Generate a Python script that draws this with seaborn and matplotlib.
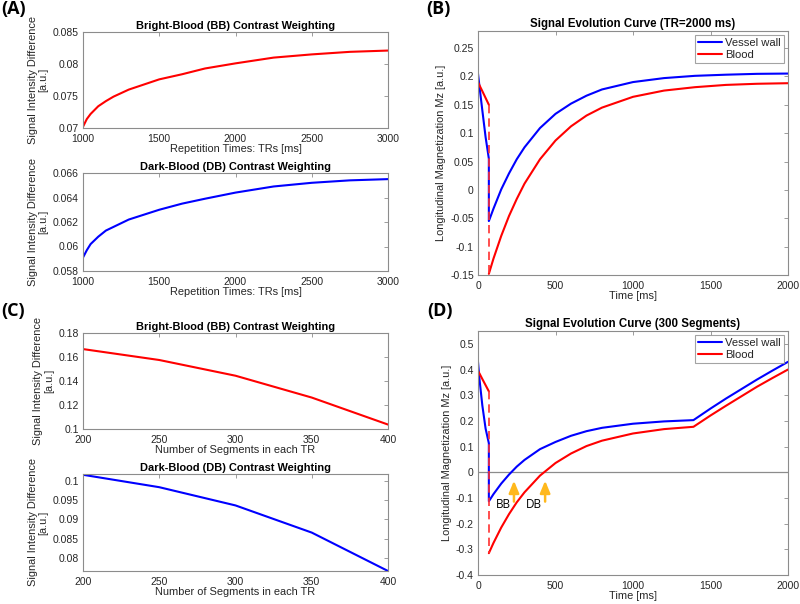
import numpy as np
import pandas as pd
import matplotlib
matplotlib.use("Agg")
import matplotlib.pyplot as plt
from matplotlib.ticker import FuncFormatter, MultipleLocator
import seaborn as sns

# ---- data ----
# (A) contrast vs repetition time
tr_ms = [1000, 1025, 1050, 1100, 1150, 1200, 1300, 1400, 1500, 1650, 1800, 2000, 2250, 2500, 2750, 3000]
bb_vs_tr = [0.0702, 0.0714, 0.0722, 0.0734, 0.0742, 0.0749, 0.0760, 0.0768, 0.0776, 0.0784, 0.0793,
            0.0801, 0.0810, 0.0815, 0.0819, 0.0821]
db_vs_tr = [0.0591, 0.0597, 0.0602, 0.0608, 0.0613, 0.0616, 0.0622, 0.0626, 0.0630, 0.0635, 0.0639,
            0.0644, 0.0649, 0.0652, 0.0654, 0.0655]

# (C) contrast vs number of segments
segments = [200, 250, 300, 350, 400]
bb_vs_seg = [0.1666, 0.1575, 0.1444, 0.1262, 0.1037]
db_vs_seg = [0.1015, 0.0983, 0.0936, 0.0866, 0.0767]

# (B) signal evolution, TR = 2000 ms
b_t_pre = [0, 10, 28, 49, 70]
b_wall_pre = [0.205, 0.181, 0.140, 0.093, 0.055]
b_blood_pre = [0.190, 0.184, 0.174, 0.162, 0.150]
b_t_post = [70, 100, 150, 200, 250, 300, 400, 500, 600, 700, 800, 1000, 1200, 1400, 1600, 1800, 2000]
b_wall_post = [-0.055, -0.033, 0.001, 0.029, 0.054, 0.075, 0.109, 0.134, 0.152, 0.166, 0.177, 0.190,
               0.197, 0.201, 0.203, 0.2045, 0.205]
b_blood_post = [-0.148, -0.121, -0.081, -0.046, -0.016, 0.011, 0.054, 0.087, 0.112, 0.131, 0.145, 0.164,
                0.175, 0.181, 0.185, 0.187, 0.188]

# (D) signal evolution, 300 segments
d_t_pre = [0, 10, 28, 49, 70]
d_wall_pre = [0.430, 0.360, 0.260, 0.170, 0.113]
d_blood_pre = [0.395, 0.384, 0.363, 0.339, 0.315]
d_t_post = [70, 100, 150, 200, 250, 300, 400, 500, 600, 700, 800, 1000, 1200, 1390, 1500, 1600, 1700,
            1800, 1900, 2000]
d_wall_post = [-0.113, -0.085, -0.044, -0.009, 0.022, 0.048, 0.090, 0.118, 0.142, 0.160, 0.173, 0.189,
               0.198, 0.203, 0.248, 0.287, 0.324, 0.361, 0.396, 0.430]
d_blood_post = [-0.315, -0.275, -0.215, -0.163, -0.117, -0.078, -0.013, 0.036, 0.073, 0.102, 0.123, 0.151,
                0.168, 0.177, 0.221, 0.259, 0.296, 0.333, 0.367, 0.400]
crossing_times = [232, 433]
crossing_labels = ["BB", "DB"]

# ---- style ----
sns.set_theme(style="white")
plt.rcParams["font.family"] = ["Liberation Sans", "DejaVu Sans"]
plt.rcParams["axes.unicode_minus"] = False

BLUE = "#0000FF"
RED = "#FF0000"
GREY = "#8c8c8c"
TXT = "#262626"
FS = 7.5

fig = plt.figure(figsize=(8.0, 6.04), dpi=100)


def box(ax):
    for s in ax.spines.values():
        s.set_color(GREY)
        s.set_linewidth(0.8)
    ax.tick_params(direction="in", length=3, width=0.6, color=GREY, top=True, right=True,
                   labelsize=FS, labelcolor=TXT)
    ax.tick_params(axis="x", pad=4)
    ax.tick_params(axis="y", pad=3)
    ax.yaxis.set_major_formatter(FuncFormatter(lambda v, p: "%g" % round(v, 6)))
    ax.xaxis.set_major_formatter(FuncFormatter(lambda v, p: "%g" % v))


def small_panel(rect, x, y, color, title, xlabel, xlim, xstep, ylim, ystep):
    ax = fig.add_axes(rect)
    sns.lineplot(x=x, y=y, color=color, lw=1.5, ax=ax)
    ax.set_xlim(*xlim)
    ax.set_ylim(*ylim)
    ax.xaxis.set_major_locator(MultipleLocator(xstep))
    ax.yaxis.set_major_locator(MultipleLocator(ystep))
    ax.set_title(title, fontsize=FS + 0.4, fontweight="bold", color="black", pad=2)
    ax.set_xlabel(xlabel, fontsize=FS + 0.4, color=TXT, labelpad=0)
    ax.set_ylabel("Signal Intensity Difference\n[a.u.]", fontsize=FS + 0.4, color=TXT,
                  linespacing=1.1, labelpad=3)
    box(ax)
    return ax


def evolution_panel(rect, t_pre, wall_pre, blood_pre, t_post, wall_post, blood_post, title, ylim):
    ax = fig.add_axes(rect)
    wall = pd.DataFrame({"t": t_pre + t_post, "mz": wall_pre + wall_post})
    sns.lineplot(data=wall, x="t", y="mz", sort=False, estimator=None, color=BLUE, lw=1.5,
                 ax=ax, label="Vessel wall")
    sns.lineplot(x=t_pre, y=blood_pre, color=RED, lw=1.5, ax=ax, label="Blood")
    sns.lineplot(x=t_post, y=blood_post, color=RED, lw=1.5, ax=ax, label="_nolegend_")
    drop = pd.DataFrame({"t": [t_pre[-1], t_post[0]], "mz": [blood_pre[-1], blood_post[0]]})
    sns.lineplot(data=drop, x="t", y="mz", sort=False, estimator=None, color="#FF3030", lw=1.2,
                 linestyle=(0, (5, 3)), ax=ax, label="_nolegend_")
    ax.set_xlim(0, 2000)
    ax.set_ylim(*ylim)
    ax.xaxis.set_major_locator(MultipleLocator(500))
    ax.set_title(title, fontsize=FS + 0.8, fontweight="bold", color="black", pad=3)
    ax.set_xlabel("Time [ms]", fontsize=FS + 0.4, color=TXT, labelpad=0)
    ax.set_ylabel("Longitudinal Magnetization Mz [a.u.]", fontsize=FS + 0.4, color=TXT, labelpad=3)
    leg = ax.legend(loc="upper right", fontsize=FS + 0.6, frameon=True, fancybox=False,
                    borderpad=0.3, handlelength=2.1, handletextpad=0.3, labelspacing=0.15,
                    borderaxespad=0.35)
    leg.get_frame().set_edgecolor(GREY)
    leg.get_frame().set_linewidth(0.8)
    for txt in leg.get_texts():
        txt.set_color(TXT)
    box(ax)
    return ax


W = 800.0
H = 604.0


def rect(l, t, r, b):
    return [l / W, 1 - b / H, (r - l) / W, (b - t) / H]


small_panel(rect(83, 32, 388, 128), tr_ms, bb_vs_tr, RED, "Bright-Blood (BB) Contrast Weighting",
            "Repetition Times: TRs [ms]", (1000, 3000), 500, (0.07, 0.085), 0.005)
small_panel(rect(83, 173, 388, 271), tr_ms, db_vs_tr, BLUE, "Dark-Blood (DB) Contrast Weighting",
            "Repetition Times: TRs [ms]", (1000, 3000), 500, (0.058, 0.066), 0.002)
small_panel(rect(83, 333, 388, 429), segments, bb_vs_seg, RED, "Bright-Blood (BB) Contrast Weighting",
            "Number of Segments in each TR", (200, 400), 50, (0.1, 0.18), 0.02)
small_panel(rect(83, 474, 388, 571), segments, db_vs_seg, BLUE, "Dark-Blood (DB) Contrast Weighting",
            "Number of Segments in each TR", (200, 400), 50, (0.0767, 0.1017), 0.005)

axB = evolution_panel(rect(478, 31, 788, 275), b_t_pre, b_wall_pre, b_blood_pre, b_t_post, b_wall_post,
                      b_blood_post, "Signal Evolution Curve (TR=2000 ms)", (-0.15, 0.28))
axB.yaxis.set_major_locator(MultipleLocator(0.05))

axD = evolution_panel(rect(478, 331, 788, 575), d_t_pre, d_wall_pre, d_blood_pre, d_t_post, d_wall_post,
                      d_blood_post, "Signal Evolution Curve (300 Segments)", (-0.4, 0.55))
axD.yaxis.set_major_locator(MultipleLocator(0.1))
axD.axhline(0, color=GREY, lw=0.9, zorder=0)
for t0, lab in zip(crossing_times, crossing_labels):
    axD.annotate("", xy=(t0, -0.022), xytext=(t0, -0.125),
                 arrowprops=dict(arrowstyle="-|>,head_length=0.6,head_width=0.25", color="#FFB81C", lw=1.8))
    axD.text(t0 - 22, -0.125, lab, ha="right", va="center", fontsize=FS + 1.0, color="black",
             family="Open Sans")

# panel letters
for x, y, s in [(1, 0, "(A)"), (426, 0, "(B)"), (1, 302, "(C)"), (427, 302, "(D)")]:
    fig.text(x / W, 1 - y / H, s, ha="left", va="top", fontsize=13, fontweight="bold",
             family="Open Sans", color="black")

fig.savefig("out.png", dpi=100, facecolor="white")
